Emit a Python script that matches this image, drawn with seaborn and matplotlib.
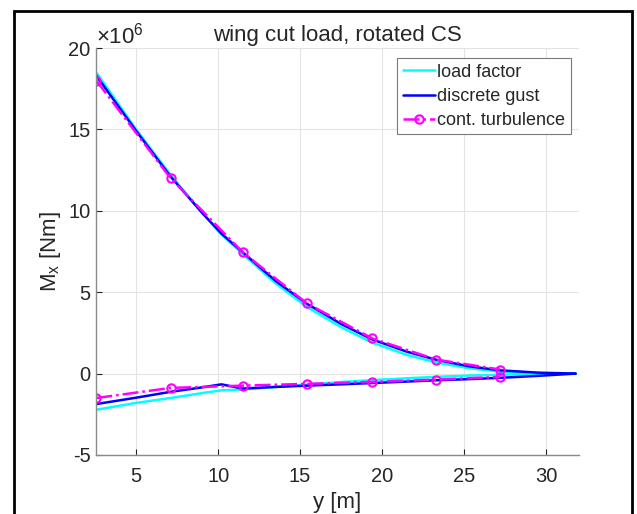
import matplotlib
matplotlib.use("Agg")
import matplotlib.pyplot as plt
import seaborn as sns
import numpy as np
import pandas as pd
from matplotlib.patches import Rectangle
from matplotlib.ticker import FuncFormatter

# %%
# spanwise stations [m]
y_span = [2.57, 5.0, 7.1, 9.0, 10.2, 11.5, 13.5, 15.4, 17.5, 19.4, 21.5, 23.3, 25.3, 27.2, 29.5, 31.8]
y_turb = [2.57, 7.1, 11.5, 15.4, 19.4, 23.3, 27.2]

# envelopes of the wing cut moment, in 1e6 Nm
lf_max = [18.5, 15.0, 12.2, 9.9, 8.55, 7.35, 5.55, 4.1, 2.85, 1.9, 1.15, 0.68, 0.33, 0.12, 0.02, 0.0]
lf_min = [-2.22, -1.8, -1.5, -1.2, -1.03, -0.97, -0.82, -0.68, -0.52, -0.4, -0.29, -0.2, -0.12, -0.07, -0.02, 0.0]
gust_max = [18.3, 14.9, 12.1, 9.9, 8.6, 7.45, 5.7, 4.3, 3.05, 2.1, 1.35, 0.85, 0.45, 0.2, 0.06, 0.0]
gust_min = [-1.87, -1.48, -1.12, -0.85, -0.66, -0.92, -0.82, -0.74, -0.66, -0.58, -0.49, -0.41, -0.34, -0.26, -0.14, 0.0]
turb_max = [18.0, 12.0, 7.45, 4.32, 2.16, 0.86, 0.25]
turb_min = [-1.5, -0.88, -0.74, -0.63, -0.51, -0.37, -0.2]

# %%
def to_df(y, vmax, vmin, case):
    return pd.concat([
        pd.DataFrame({"y": y, "Mx": np.array(vmax) * 1e6, "env": "max", "case": case}),
        pd.DataFrame({"y": y, "Mx": np.array(vmin) * 1e6, "env": "min", "case": case}),
    ])

df = pd.concat([
    to_df(y_span, lf_max, lf_min, "load factor"),
    to_df(y_span, gust_max, gust_min, "discrete gust"),
    to_df(y_turb, turb_max, turb_min, "cont. turbulence"),
])

sns.set_style("ticks")
plt.rcParams["font.family"] = ["Liberation Sans", "DejaVu Sans"]
plt.rcParams["mathtext.fontset"] = "custom"
plt.rcParams["mathtext.rm"] = "Liberation Sans"
plt.rcParams["mathtext.it"] = "Liberation Sans"
plt.rcParams["axes.unicode_minus"] = False

fig = plt.figure(figsize=(6.37, 5.14), dpi=100)
ax = fig.add_axes([0.1507, 0.1148, 0.758, 0.7918])

styles = {
    "load factor": dict(color="cyan", linestyle="-"),
    "discrete gust": dict(color="blue", linestyle="-"),
    "cont. turbulence": dict(color="magenta", linestyle="-.", marker="o",
                             markerfacecolor="none", mec="magenta", mew=1.5, ms=6),
}
for case, kw in styles.items():
    sub = df[df["case"] == case]
    for env in ["max", "min"]:
        part = sub[sub["env"] == env]
        sns.lineplot(data=part, x="y", y="Mx", ax=ax, lw=1.8, sort=False,
                     estimator=None, label=case if env == "max" else None, **kw)

ax.set_xlim(2.55, 32)
ax.set_ylim(-5e6, 20e6)
ax.set_xticks([5, 10, 15, 20, 25, 30])
ax.set_yticks(np.arange(-5, 21, 5) * 1e6)

# MATLAB style exponent label
fmt = FuncFormatter(lambda v, p: f"{v / 1e6:g}")
fmt.set_offset_string("$\\times\\mathregular{10^{6}}$")
ax.yaxis.set_major_formatter(fmt)
ax.yaxis.get_offset_text().set_fontsize(16)
ax.yaxis.get_offset_text().set_color("#262626")

ax.grid(True, color="#e3e3e3", lw=0.8)
sns.despine(ax=ax)
for s in ["left", "bottom"]:
    ax.spines[s].set_color("#8a8a8a")
    ax.spines[s].set_linewidth(1.0)
ax.tick_params(axis="both", direction="in", length=4, width=0.8, color="#262626",
               labelsize=14.5, labelcolor="#262626")
ax.tick_params(axis="x", pad=9)
ax.tick_params(axis="y", pad=4)

ax.set_title("wing cut load, rotated CS", fontsize=16, pad=5)
ax.set_xlabel("y [m]", fontsize=16, color="#262626", labelpad=4)
ax.set_ylabel("M$_\\mathregular{x}$ [Nm]", fontsize=16, color="#262626", labelpad=4)

leg = ax.legend(loc="upper right", bbox_to_anchor=(0.983, 0.975), fontsize=13,
                frameon=True, fancybox=False, framealpha=1, edgecolor="#7a7a7a",
                handlelength=1.75, handletextpad=0.15, borderpad=0.3, labelspacing=0.4,
                borderaxespad=0, numpoints=1)
leg.get_frame().set_linewidth(0.8)

fig.patches.append(Rectangle((14 / 637, -0.1), 618 / 637, 1.1 - 11 / 514,
                             transform=fig.transFigure, fill=False,
                             edgecolor="black", lw=2))

fig.savefig("out.png", dpi=100)
